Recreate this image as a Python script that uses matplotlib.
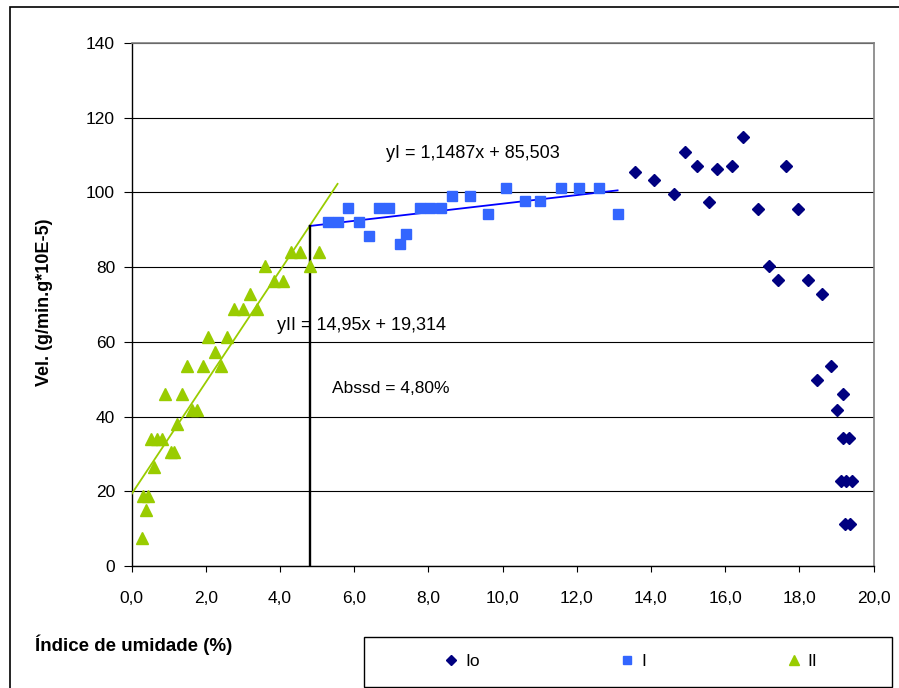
import numpy as np
import matplotlib
matplotlib.use("Agg")
import matplotlib.pyplot as plt
from matplotlib.patches import Rectangle

plt.rcParams['font.family'] = ['Liberation Sans', 'DejaVu Sans']

# --- data ---
x_II = [0.29, 0.39, 0.31, 0.45, 0.61, 0.52, 0.67, 0.81, 0.90, 1.05, 1.15,
        1.23, 1.35, 1.48, 1.63, 1.77, 1.92, 2.05, 2.25, 2.41, 2.58, 2.77,
        2.99, 3.19, 3.39, 3.60, 3.83, 4.09, 4.30, 4.55, 4.80, 5.04]
y_II = [7.4, 15.0, 18.8, 18.8, 26.4, 34.1, 34.1, 34.1, 46.0, 30.4, 30.4,
        37.9, 46.0, 53.5, 41.8, 41.8, 53.5, 61.2, 57.4, 53.5, 61.2, 68.8,
        68.8, 72.7, 68.8, 80.3, 76.4, 76.4, 84.1, 84.1, 80.3, 84.1]

x_I = [5.30, 5.56, 5.84, 6.13, 6.41, 6.66, 6.94, 7.24, 7.40, 7.77, 8.05,
       8.34, 8.63, 9.12, 9.61, 10.10, 10.60, 11.00, 11.58, 12.07, 12.60, 13.10]
y_I = [92.0, 92.0, 95.8, 92.0, 88.3, 95.8, 95.8, 86.3, 88.9, 95.8, 95.8,
       95.8, 99.0, 99.0, 94.3, 101.2, 97.7, 97.7, 101.2, 101.2, 101.2, 94.3]

x_Io = [13.57, 14.09, 14.63, 14.92, 15.24, 15.57, 15.78, 16.19, 16.48, 16.89,
        17.63, 17.18, 17.96, 17.43, 18.24, 18.61, 18.85, 18.49, 19.19, 19.01,
        19.19, 19.34, 19.12, 19.26, 19.41, 19.24, 19.37]
y_Io = [105.5, 103.2, 99.5, 110.8, 107.1, 97.5, 106.3, 107.1, 114.8, 95.6,
        107.1, 80.3, 95.6, 76.6, 76.6, 72.7, 53.6, 49.8, 46.0, 41.8,
        34.2, 34.2, 22.8, 22.8, 22.8, 11.2, 11.2]

# trend lines (slope, intercept, x range)
fit_II = (14.95, 19.314, 0.0, 5.55)
fit_I = (1.1487, 85.503, 4.8, 13.1)
abssd = 4.80

x_ticks = np.arange(0, 21, 2)
y_ticks = np.arange(0, 141, 20)

fig = plt.figure(figsize=(8.99, 6.88), dpi=100)
ax = fig.add_axes([131.7 / 899, 1 - 566 / 688, (873.5 - 131.7) / 899, (566 - 43) / 688])

ax.set_xlim(0, 20)
ax.set_ylim(0, 140)
ax.set_xticks(x_ticks)
ax.set_xticklabels([f"{v:.1f}".replace('.', ',') for v in x_ticks])
ax.set_yticks(y_ticks)
ax.set_yticklabels([str(v) for v in y_ticks])
ax.tick_params(axis='both', labelsize=12.5, direction='out', color='black')
ax.tick_params(axis='y', length=6, pad=6)
ax.tick_params(axis='x', length=4, pad=14)

ax.grid(axis='y', color='black', linewidth=0.8)
ax.set_axisbelow(True)
for s in ['left', 'bottom']:
    ax.spines[s].set_color('black')
    ax.spines[s].set_linewidth(1.0)
for s in ['top', 'right']:
    ax.spines[s].set_color('#808080')
    ax.spines[s].set_linewidth(1.2)

# trend lines
for (m, b, x0, x1), c in [(fit_II, '#99CC00'), (fit_I, '#0000FF')]:
    xs = np.array([x0, x1])
    ax.plot(xs, m * xs + b, color=c, linewidth=1.3, zorder=3)

# vertical line at Abssd
ax.plot([abssd, abssd], [0, fit_I[0] * abssd + fit_I[1]], color='black', linewidth=1.7, zorder=3)

h_Io, = ax.plot(x_Io, y_Io, linestyle='none', marker='D', markersize=6.5,
                color='#000080', label='Io', zorder=4)
h_I, = ax.plot(x_I, y_I, linestyle='none', marker='s', markersize=7,
               color='#3366FF', label='I', zorder=4)
h_II, = ax.plot(x_II, y_II, linestyle='none', marker='^', markersize=8.5,
                color='#99CC00', label='II', zorder=4)

ax.text(6.86, 110.3, "yI = 1,1487x + 85,503", fontsize=13, va='center', ha='left')
ax.text(3.92, 64.5, "yII = 14,95x + 19,314", fontsize=13, va='center', ha='left')
ax.text(5.39, 47.6, "Abssd = 4,80%", fontsize=12.5, va='center', ha='left')

fig.text(45 / 899, 1 - 302 / 688, "Vel. (g/min.g*10E-5)", rotation=90,
         fontsize=13, fontweight='bold', ha='center', va='center')
fig.text(35 / 899, 1 - 645 / 688, "Índice de umidade (%)",
         fontsize=13.5, fontweight='bold', ha='left', va='center')

# legend frame and entries
fig.add_artist(Rectangle((364 / 899, 1 - 687 / 688), (892 - 364) / 899, 50 / 688,
                         transform=fig.transFigure, facecolor='white',
                         edgecolor='black', linewidth=1.0))
fig.legend(handles=[h_Io, h_I, h_II], loc='center', ncol=3, frameon=False,
           bbox_to_anchor=(630 / 899, 1 - 661 / 688), fontsize=12.5,
           numpoints=1, handlelength=1.0, handletextpad=0.3, columnspacing=8.0,
           markerscale=0.8)

# outer chart border (right and bottom lie outside the image)
fig.add_artist(Rectangle((10 / 899, -0.1), 1.2, 1.1 - 7 / 688,
                         transform=fig.transFigure, facecolor='none',
                         edgecolor='black', linewidth=1.2))

fig.savefig("out.png", dpi=100)
